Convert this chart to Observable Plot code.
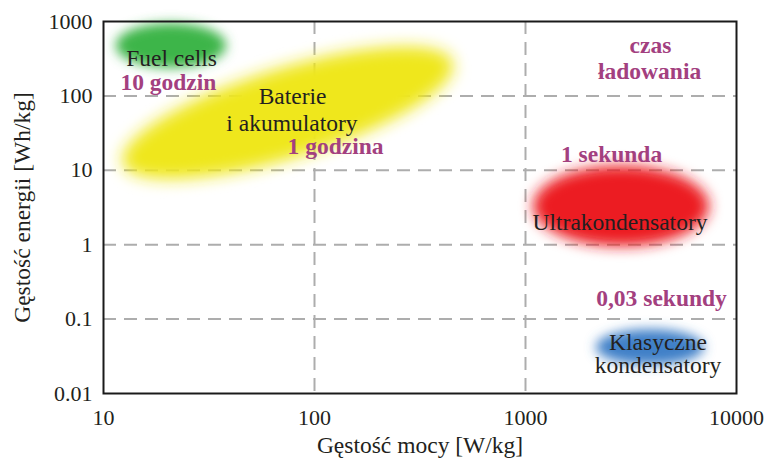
<!DOCTYPE html>
<html><head><meta charset="utf-8">
<script src="https://cdn.jsdelivr.net/npm/d3@7"></script>
<script src="https://cdn.jsdelivr.net/npm/@observablehq/plot@0.6"></script>
<style>
html,body{margin:0;padding:0;background:#fff;}
#chart svg{display:block;}
</style></head><body><div id="chart"></div>
<script>
// Axis ticks
const xTicks = [10, 100, 1000, 10000];
const xTickLabels = ["10", "100", "1000", "10000"];
const yTicks = [0.01, 0.1, 1, 10, 100, 1000];
const yTickLabels = ["0.01", "0.1", "1", "10", "100", "1000"];
const xGrid = [100, 1000];
const yGrid = [0.1, 1, 10, 100];

// Technology regions (major-axis endpoints in data units + minor half-width in energy decades)
const blobNames = ["Fuel cells", "Baterie i akumulatory", "Ultrakondensatory", "Klasyczne kondensatory"];
const blobColors = ["#3db54a", "#efe71c", "#ec1c24", "#3f80c8"];
const blobPowerStart = [11.5, 12.4, 1091, 2168];
const blobPowerEnd = [38.3, 455, 7447, 7047];
const blobEnergyStart = [470, 12.2, 3.26, 0.0415];
const blobEnergyEnd = [470, 280, 3.26, 0.0415];
const blobSpreadDecades = [0.3, 0.6, 0.54, 0.24];

// Technology labels
const labelText = ["Fuel cells", "Baterie", "i akumulatory", "Ultrakondensatory", "Klasyczne", "kondensatory"];
const labelPower = [21.0, 78.7, 78.2, 2805, 4246, 4246];
const labelEnergy = [318, 98, 42.6, 1.99, 0.048, 0.0238];

// Charging-time labels
const timeText = ["10 godzin", "1 godzina", "czas", "ładowania", "1 sekunda", "0,03 sekundy"];
const timePower = [20.3, 125.8, 3908, 3873, 2558, 4413];
const timeEnergy = [151, 20.9, 476, 213, 16.3, 0.189];

const xTitle = "Gęstość mocy [W/kg]";
const yTitle = "Gęstość energii [Wh/kg]";

const blurs = [6, 8, 7, 6];

function blobMark(index, scales) {
  const {x, y} = scales;
  const g = d3.create("svg:g");
  const defs = g.append("defs");
  blobNames.forEach((name, i) => {
    const fid = "blobblur" + i;
    defs.append("filter").attr("id", fid)
      .attr("x", "-60%").attr("y", "-150%").attr("width", "220%").attr("height", "400%")
      .append("feGaussianBlur").attr("stdDeviation", blurs[i]);
    const x0 = x(blobPowerStart[i]), x1 = x(blobPowerEnd[i]);
    const y0 = y(blobEnergyStart[i]), y1 = y(blobEnergyEnd[i]);
    const cx = (x0 + x1) / 2, cy = (y0 + y1) / 2;
    const rx = Math.hypot(x1 - x0, y1 - y0) / 2;
    const ry = Math.abs(y(1) - y(Math.pow(10, blobSpreadDecades[i])));
    const ang = Math.atan2(y1 - y0, x1 - x0) * 180 / Math.PI;
    g.append("ellipse")
      .attr("cx", 0).attr("cy", 0).attr("rx", rx).attr("ry", ry)
      .attr("transform", `translate(${cx},${cy}) rotate(${ang})`)
      .attr("fill", blobColors[i])
      .attr("filter", `url(#${fid})`)
      .append("title").text(name);
  });
  return g.node();
}

const labels = labelText.map((t, i) => ({t, x: labelPower[i], y: labelEnergy[i]}));
const times = timeText.map((t, i) => ({t, x: timePower[i], y: timeEnergy[i]}));

const plot = Plot.plot({
  width: 767,
  height: 459,
  marginLeft: 103,
  marginRight: 31,
  marginTop: 21,
  marginBottom: 66,
  style: {fontFamily: "'Liberation Serif', 'Times New Roman', serif", fontSize: "22px", color: "#231f20", background: "#fff", overflow: "visible"},
  x: {type: "log", domain: [10, 10000], ticks: xTicks, tickFormat: d => xTickLabels[xTicks.indexOf(d)], tickSize: 0, tickPadding: 16, label: null},
  y: {type: "log", domain: [0.01, 1000], ticks: yTicks, tickFormat: d => yTickLabels[yTicks.indexOf(d)], tickSize: 0, tickPadding: 11, label: null},
  marks: [
    Plot.ruleX(xGrid, {stroke: "#adadad", strokeWidth: 2, strokeDasharray: "13,8"}),
    Plot.ruleY(yGrid, {stroke: "#adadad", strokeWidth: 2, strokeDasharray: "13,8"}),
    blobMark,
    Plot.frame({stroke: "#1a1a1a", strokeWidth: 2}),
    Plot.text(labels, {x: "x", y: "y", text: "t", fill: "#231f20", fontSize: 23.5}),
    Plot.text(times, {x: "x", y: "y", text: "t", fill: "#a3407f", fontSize: 23.5, fontWeight: "bold"}),
    Plot.text([xTitle], {text: d => d, frameAnchor: "bottom", textAnchor: "middle", dy: 59, fontSize: 23.5, fill: "#231f20"}),
    Plot.text([yTitle], {text: d => d, frameAnchor: "left", textAnchor: "middle", rotate: -90, dx: -81, fontSize: 23.5, fill: "#231f20"})
  ]
});
document.getElementById("chart").appendChild(plot);
</script>
</body></html>
